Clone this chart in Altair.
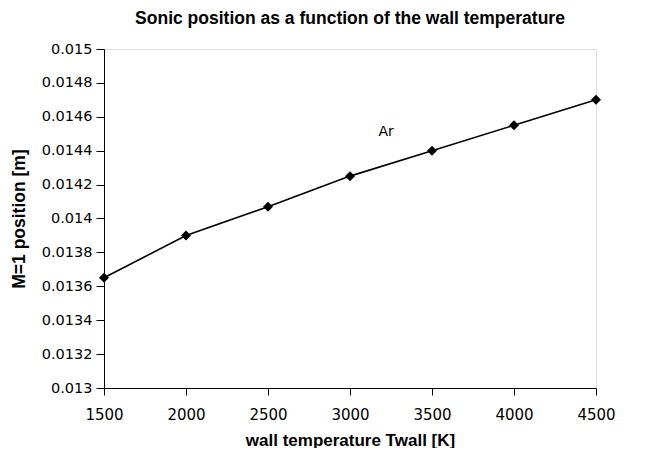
import altair as alt
import pandas as pd

temps = [1500, 2000, 2500, 3000, 3500, 4000, 4500]
positions = [0.01365, 0.0139, 0.01407, 0.01425, 0.0144, 0.01455, 0.0147]
y_ticks = [0.013, 0.0132, 0.0134, 0.0136, 0.0138, 0.014, 0.0142, 0.0144, 0.0146, 0.0148, 0.015]
x_ticks = [1500, 2000, 2500, 3000, 3500, 4000, 4500]
label_text = ["Ar"]
label_x = [3220]
label_y = [0.01451]

df = pd.DataFrame({"T": temps, "pos": positions})
lab = pd.DataFrame({"T": label_x, "pos": label_y, "text": label_text})

FONT = "Liberation Sans"
LFONT = "DejaVu Sans"

x_enc = alt.X("T:Q", scale=alt.Scale(domain=[1500, 4500], nice=False, zero=False),
              axis=alt.Axis(values=x_ticks, title="wall temperature Twall [K]", format="d",
                            tickSize=7, labelPadding=12, labelFontSize=15,
                            titleFontSize=17, titlePadding=10))
y_enc = alt.Y("pos:Q", scale=alt.Scale(domain=[0.013, 0.015], nice=False, zero=False),
              axis=alt.Axis(values=y_ticks, title="M=1 position [m]", format="~g",
                            tickSize=8, labelPadding=4, labelFontSize=14.5,
                            titleFontSize=17.5, titleX=-76, titleY=169.5,
                            titleBaseline="bottom", titleAlign="center", titleAngle=270))

line = alt.Chart(df).mark_line(color="black", strokeWidth=1.6).encode(x=x_enc, y=y_enc)
pts = alt.Chart(df).mark_point(shape="diamond", filled=True, color="black", size=100, opacity=1).encode(x=x_enc, y=y_enc)
txt = alt.Chart(lab).mark_text(font=LFONT, fontSize=14, color="black").encode(x=x_enc, y=y_enc, text="text:N")

chart = (line + pts + txt).properties(
    width=492, height=339,
    title=alt.TitleParams("Sonic position as a function of the wall temperature",
                          font=FONT, fontSize=17.5, fontWeight="bold", color="black",
                          anchor="middle", offset=14),
    autosize=alt.AutoSizeParams(type="none"),
    padding={"left": 96, "top": 41, "right": 40, "bottom": 60},
).configure_view(stroke="black", strokeWidth=1.5).configure(background="white").configure_axis(
    grid=False, domainColor="black", tickColor="black",
    labelFont=LFONT, labelColor="black",
    labelOverlap=False, labelFlush=False,
    titleFont=FONT, titleFontWeight="bold", titleColor="black",
)

chart.save("out.html", embed_options={"renderer": "svg", "actions": False})
